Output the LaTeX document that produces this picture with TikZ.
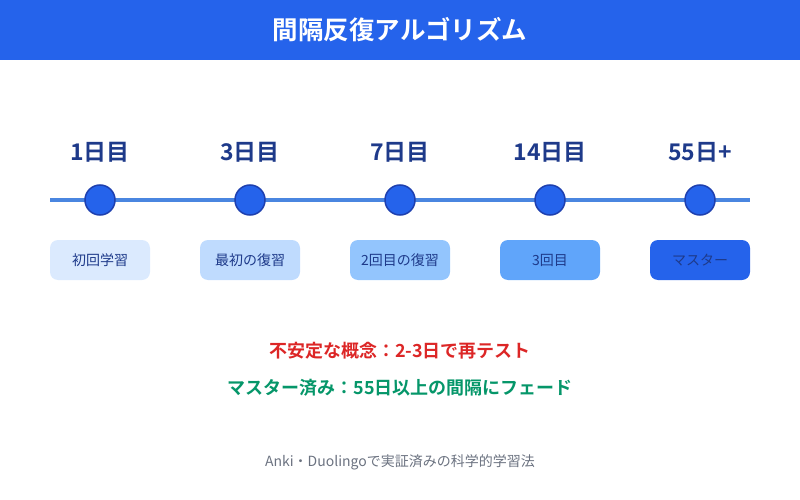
\documentclass[tikz,border=0pt]{standalone}
\usepackage{fontspec}
\setmainfont{Noto Sans CJK JP}
\newfontfamily\jpbold{Noto Sans CJK JP Bold}
\definecolor{headblue}{HTML}{2563EB}
\definecolor{dotedge}{HTML}{1E40AF}
\definecolor{lineblue}{HTML}{4A86E0}
\definecolor{daytext}{HTML}{1E3A8A}
\definecolor{stageone}{HTML}{DBEAFE}
\definecolor{stagetwo}{HTML}{BFDBFE}
\definecolor{stagethree}{HTML}{93C5FD}
\definecolor{stagefour}{HTML}{60A5FA}
\definecolor{stagefive}{HTML}{2563EB}
\definecolor{warnred}{HTML}{DC2626}
\definecolor{okgreen}{HTML}{059669}
\definecolor{notegray}{HTML}{6B7280}
\begin{document}
\begin{tikzpicture}[x=1pt, y=-1pt]
                \tikzstyle{day}=[font=\jpbold\fontsize{23}{27}\selectfont, text=daytext]
                \tikzstyle{dot}=[circle, fill=headblue, draw=dotedge, line width=1.5pt, minimum size=30pt, inner sep=0pt]
                \tikzstyle{stage}=[rounded corners=8pt, minimum width=100pt, minimum height=40pt, inner sep=0pt, font=\fontsize{14}{17}\selectfont, text=daytext]
                \tikzstyle{rule}=[lineblue, line width=4pt]

                \useasboundingbox (0,0) rectangle (800,500);
                \fill[headblue] (0,0) rectangle (800,60);
                \node[font=\jpbold\fontsize{25.5}{30}\selectfont, text=white] (title) at (400,30) {間隔反復アルゴリズム};

                \coordinate (start) at (50,200);
                \coordinate (stop) at (750,200);
                \draw[rule] (start) -- (stop);

                \node[dot] (d1) at (100,200) {};
                \node[dot] (d3) at (250,200) {};
                \node[dot] (d7) at (400,200) {};
                \node[dot] (d14) at (550,200) {};
                \node[dot] (d55) at (700,200) {};

                \node[day] (l1) at (100,152) {1日目};
                \node[day] (l3) at (250,152) {3日目};
                \node[day] (l7) at (400,152) {7日目};
                \node[day] (l14) at (550,152) {14日目};
                \node[day] (l55) at (700,152) {55日+};

                \node[stage, fill=stageone] (s1) at (100,260) {初回学習};
                \node[stage, fill=stagetwo] (s2) at (250,260) {最初の復習};
                \node[stage, fill=stagethree] (s3) at (400,260) {2回目の復習};
                \node[stage, fill=stagefour] (s4) at (550,260) {3回目};
                \node[stage, fill=stagefive] (s5) at (700,260) {マスター};

                \node[font=\jpbold\fontsize{18}{21}\selectfont, text=warnred] (weak) at (400,351) {不安定な概念：2-3日で再テスト};
                \node[font=\jpbold\fontsize{18}{21}\selectfont, text=okgreen] (master) at (400,388) {マスター済み：55日以上の間隔にフェード};
                \node[font=\fontsize{14}{17}\selectfont, text=notegray] (note) at (400,462) {Anki・Duolingoで実証済みの科学的学習法};
\end{tikzpicture}
\end{document}
